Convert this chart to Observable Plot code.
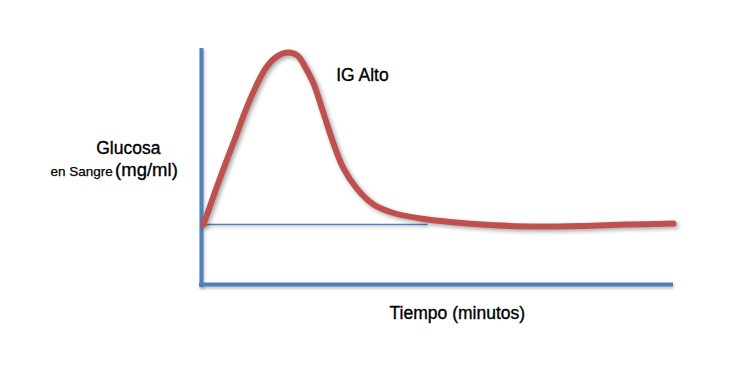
<!DOCTYPE html>
<html>
<head>
<meta charset="utf-8">
<script src="https://cdn.jsdelivr.net/npm/d3@7"></script>
<script src="https://cdn.jsdelivr.net/npm/@observablehq/plot@0.6"></script>
<style>
  html, body { margin: 0; padding: 0; background: #fff; }
  #chart svg { display: block; }
</style>
</head>
<body>
<div id="chart"></div>
<script>
// Curve (time in arbitrary units 0–100, glucose 0–100)
const tiempo  = [0.42, 2.97, 5.08, 7.20, 9.32, 11.44, 13.56, 15.68, 18.22, 20.34, 22.03, 23.73, 25.85, 27.97, 30.08, 33.05, 36.44, 40.68, 46.40, 52.75, 61.23, 69.70, 80.30, 89.83, 100];
const glucosa = [25.4, 39.8, 51.3, 62.3, 73.7, 83.5, 91.5, 96.2, 98.3, 97.0, 91.9, 85.2, 72.5, 59.7, 49.2, 40.3, 33.9, 30.3, 28.0, 26.5, 25.2, 24.6, 24.8, 25.4, 25.8];
const baseline = [25.4];
const baselineEnd = [48];

const labelCurva = ["IG Alto"];
const labelX = ["Tiempo (minutos)"];
const labelY1 = ["Glucosa"];
const labelY2a = ["en Sangre"];
const labelY2b = ["(mg/ml)"];

const curve = tiempo.map((t, i) => ({t, g: glucosa[i]}));

const blue = "#4f81bd";
const red = "#c0504d";
const font = "Liberation Sans, Arial, sans-serif";
const textStyle = {fill: "#000", stroke: "#000", strokeWidth: 0.35};

const plot = Plot.plot({
  width: 734,
  height: 392,
  marginLeft: 201,
  marginRight: 61,
  marginTop: 48,
  marginBottom: 108,
  x: {domain: [0, 100], axis: null},
  y: {domain: [0, 100], axis: null},
  style: {fontFamily: font, background: "#fff"},
  marks: [
    Plot.ruleY(baseline, {y: d => d, x1: 0, x2: baselineEnd[0], stroke: blue, strokeWidth: 1.5}),
    Plot.ruleX([0], {x: d => d, y1: -1.3, y2: 100, stroke: blue, strokeWidth: 4}),
    Plot.ruleY([0], {y: d => d, x1: -0.4, x2: 100, stroke: blue, strokeWidth: 4}),
    Plot.line(curve, {x: "t", y: "g", curve: "catmull-rom", stroke: red, strokeWidth: 6, strokeLinecap: "round", strokeLinejoin: "round"}),
    Plot.text(labelCurva, {x: [34.1], y: [88.6], text: d => d, fontSize: 17.5, ...textStyle}),
    Plot.text(labelX, {x: [54.2], y: [-12.3], text: d => d, fontSize: 17.5, ...textStyle}),
    Plot.text(labelY1, {x: [-15.5], y: [57.6], text: d => d, fontSize: 17.5, ...textStyle}),
    Plot.text(labelY2a, {x: [-18.8], y: [48.0], text: d => d, fontSize: 13.5, textAnchor: "end", ...textStyle, strokeWidth: 0.25}),
    Plot.text(labelY2b, {x: [-18.3], y: [48.3], text: d => d, fontSize: 18.5, textAnchor: "start", ...textStyle})
  ]
});

d3.select(plot).selectAll("g[aria-label='line'] path")
  .style("filter", "drop-shadow(2px 2px 2px rgba(0,0,0,0.35))");
d3.select(plot).selectAll("g[aria-label='rule'] line")
  .style("filter", "drop-shadow(1px 2px 1.5px rgba(0,0,0,0.25))");

document.getElementById("chart").appendChild(plot);
</script>
</body>
</html>
